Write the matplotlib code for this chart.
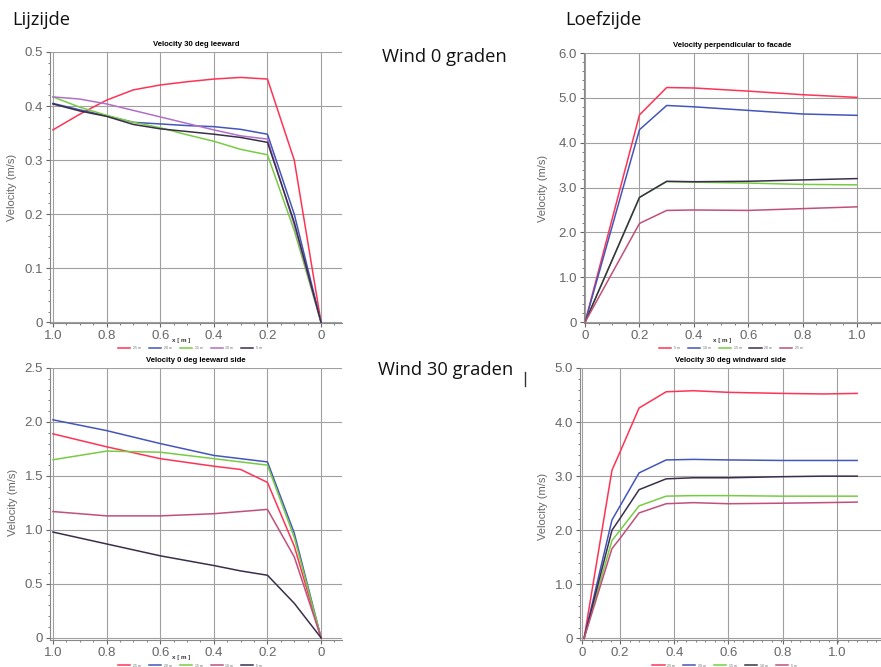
import matplotlib
matplotlib.use("Agg")
import matplotlib.pyplot as plt
from matplotlib.ticker import AutoMinorLocator

'''Data read from the picture'''
# top left: wind 0 deg, lee side
tl_x = [1.0, 0.9, 0.8, 0.7, 0.6, 0.5, 0.4, 0.3, 0.2, 0.1, 0.0]
tl_red = [0.356, 0.385, 0.411, 0.430, 0.439, 0.445, 0.450, 0.453, 0.450, 0.300, 0.0]
tl_blue = [0.405, 0.393, 0.382, 0.370, 0.367, 0.364, 0.362, 0.357, 0.348, 0.200, 0.0]
tl_green = [0.417, 0.398, 0.383, 0.370, 0.360, 0.347, 0.335, 0.320, 0.310, 0.170, 0.0]
tl_violet = [0.417, 0.413, 0.404, 0.392, 0.380, 0.368, 0.356, 0.345, 0.339, 0.180, 0.0]
tl_dark = [0.404, 0.391, 0.381, 0.366, 0.358, 0.353, 0.348, 0.342, 0.333, 0.185, 0.0]
tl_labels = ["25 m", "20 m", "15 m", "10 m", "5 m"]

# top right: wind 0 deg, windward side
tr_x = [0.0, 0.2, 0.3, 0.4, 0.6, 0.8, 1.0]
tr_red = [0.0, 4.62, 5.23, 5.22, 5.15, 5.07, 5.01]
tr_blue = [0.0, 4.29, 4.83, 4.80, 4.72, 4.64, 4.61]
tr_dark = [0.0, 2.78, 3.14, 3.13, 3.14, 3.17, 3.20]
tr_green = [0.0, 2.78, 3.13, 3.12, 3.10, 3.07, 3.06]
tr_mag = [0.0, 2.20, 2.49, 2.50, 2.49, 2.53, 2.57]
tr_labels = ["5 m", "10 m", "15 m", "20 m", "25 m"]

# bottom left: wind 30 deg, lee side
bl_x = [1.0, 0.8, 0.6, 0.4, 0.3, 0.2, 0.1, 0.0]
bl_blue = [2.02, 1.92, 1.80, 1.69, 1.66, 1.63, 0.97, 0.0]
bl_red = [1.89, 1.77, 1.66, 1.59, 1.56, 1.44, 0.85, 0.0]
bl_green = [1.65, 1.73, 1.72, 1.66, 1.63, 1.60, 0.93, 0.0]
bl_mag = [1.17, 1.13, 1.13, 1.15, 1.17, 1.19, 0.75, 0.0]
bl_dark = [0.98, 0.87, 0.76, 0.67, 0.62, 0.58, 0.32, 0.0]
bl_labels = ["25 m", "20 m", "15 m", "10 m", "5 m"]

# bottom right: wind 30 deg, windward side
br_x = [0.067, 0.17, 0.2, 0.27, 0.37, 0.47, 0.6, 0.8, 0.95, 1.075]
br_red = [0.0, 3.11, 3.45, 4.26, 4.56, 4.58, 4.55, 4.53, 4.52, 4.53]
br_blue = [0.0, 2.19, 2.45, 3.06, 3.30, 3.31, 3.30, 3.29, 3.29, 3.29]
br_dark = [0.0, 2.00, 2.22, 2.75, 2.95, 2.97, 2.97, 2.99, 3.00, 3.00]
br_green = [0.0, 1.81, 2.00, 2.45, 2.63, 2.64, 2.64, 2.63, 2.63, 2.63]
br_mag = [0.0, 1.66, 1.85, 2.32, 2.49, 2.51, 2.49, 2.50, 2.51, 2.52]
br_labels = ["25 m", "20 m", "15 m", "10 m", "5 m"]

RED, BLUE, GREEN = "#ff3355", "#4455bb", "#77cc44"
VIOLET, MAG, DARK = "#b070c8", "#c0507a", "#3a2f4a"
GRAY = "#666666"

plt.rcParams['font.family'] = ['Liberation Sans', 'DejaVu Sans']
fig = plt.figure(figsize=(8.81, 6.67), dpi=100)


def panel(rect, title, xlim, ylim, xticks, xticklabels, yticks, yticklabels,
          series, labels, xlabel=True, ylab_y=0.5, ylab_x=-0.11, xlab_x=0.45):
    ax = fig.add_axes(rect)
    for (x, y, c) in series:
        ax.plot(x, y, color=c, lw=1.1)
    ax.set_xlim(*xlim)
    ax.set_ylim(*ylim)
    ax.set_xticks(xticks)
    ax.set_xticklabels(xticklabels)
    ax.set_yticks(yticks)
    ax.set_yticklabels(yticklabels)
    ax.xaxis.set_minor_locator(AutoMinorLocator(4))
    ax.yaxis.set_minor_locator(AutoMinorLocator(5))
    ax.tick_params(which='major', length=3, color=GRAY, labelcolor=GRAY, labelsize=9.5, pad=2)
    ax.tick_params(which='minor', length=1.5, color=GRAY)
    ax.grid(True, which='major', color="#a0a0a0", lw=0.8)
    ax.set_axisbelow(True)
    for s in ['top', 'right']:
        ax.spines[s].set_visible(False)
    for s in ['left', 'bottom']:
        ax.spines[s].set_color("#888888")
    ax.set_title(title, fontsize=5.6, fontweight='bold', pad=4)
    ax.set_ylabel("Velocity (m/s)", fontsize=8, color=GRAY)
    ax.yaxis.set_label_coords(ylab_x, ylab_y)
    if xlabel:
        ax.set_xlabel("x [ m ]", fontsize=4.5, fontweight='bold', color="#333333")
        ax.xaxis.set_label_coords(xlab_x, -0.055)
    ax.legend(labels, loc='upper center', bbox_to_anchor=(xlab_x + 0.03, -0.075), ncol=5,
              fontsize=2.5, frameon=False, handlelength=3.5, columnspacing=2.3, labelcolor=GRAY)
    return ax


'''Top left'''
panel([50 / 881, 1 - 323 / 667, 292 / 881, 271 / 667], "Velocity 30 deg leeward",
      (1.011, -0.078), (-0.001, 0.5),
      [1.0, 0.8, 0.6, 0.4, 0.2, 0.0], ["1.0", "0.8", "0.6", "0.4", "0.2", "0"],
      [0, 0.1, 0.2, 0.3, 0.4, 0.5], ["0", "0.1", "0.2", "0.3", "0.4", "0.5"],
      [(tl_x, tl_red, RED), (tl_x, tl_blue, BLUE), (tl_x, tl_green, GREEN),
       (tl_x, tl_violet, VIOLET), (tl_x, tl_dark, DARK)], tl_labels,
      ylab_x=-0.113, xlab_x=0.45)

'''Top right'''
panel([584 / 881, 1 - 323 / 667, 297 / 881, 270 / 667], "Velocity perpendicular to facade",
      (-0.004, 1.088), (-0.02, 6.0),
      [0.0, 0.2, 0.4, 0.6, 0.8, 1.0], ["0", "0.2", "0.4", "0.6", "0.8", "1.0"],
      [0, 1, 2, 3, 4, 5, 6], ["0", "1.0", "2.0", "3.0", "4.0", "5.0", "6.0"],
      [(tr_x, tr_red, RED), (tr_x, tr_blue, BLUE), (tr_x, tr_green, GREEN),
       (tr_x, tr_dark, DARK), (tr_x, tr_mag, MAG)], tr_labels,
      ylab_x=-0.121, xlab_x=0.465)

'''Bottom left'''
panel([50 / 881, 1 - 640 / 667, 292 / 881, 272 / 667], "Velocity 0 deg leeward side",
      (1.011, -0.078), (-0.02, 2.5),
      [1.0, 0.8, 0.6, 0.4, 0.2, 0.0], ["1.0", "0.8", "0.6", "0.4", "0.2", "0"],
      [0, 0.5, 1.0, 1.5, 2.0, 2.5], ["0", "0.5", "1.0", "1.5", "2.0", "2.5"],
      [(bl_x, bl_red, RED), (bl_x, bl_blue, BLUE), (bl_x, bl_green, GREEN),
       (bl_x, bl_mag, MAG), (bl_x, bl_dark, DARK)], bl_labels,
      ylab_x=-0.11, ylab_y=0.507, xlab_x=0.45)

'''Bottom right'''
panel([580 / 881, 1 - 640 / 667, 301 / 881, 272 / 667], "Velocity 30 deg windward side",
      (0.052, 1.163), (-0.03, 5.0),
      [0.06, 0.2, 0.4, 0.6, 0.8, 1.0], ["0", "0.2", "0.4", "0.6", "0.8", "1.0"],
      [0, 1, 2, 3, 4, 5], ["0", "1.0", "2.0", "3.0", "4.0", "5.0"],
      [(br_x, br_red, RED), (br_x, br_blue, BLUE), (br_x, br_green, GREEN),
       (br_x, br_dark, DARK), (br_x, br_mag, MAG)], br_labels,
      xlabel=False, ylab_x=-0.106, ylab_y=0.49, xlab_x=0.45)

'''Slide captions'''
cap = dict(fontsize=13.2, family=['Open Sans', 'DejaVu Sans'], color="#111111", va='center')
fig.text(12 / 881, 1 - 20 / 667, "Lijzijde", **cap)
fig.text(565 / 881, 1 - 20 / 667, "Loefzijde", **cap)
fig.text(382 / 881, 1 - 57 / 667, "Wind 0 graden", **cap)
fig.text(378 / 881, 1 - 370 / 667, "Wind 30 graden", **cap)
fig.add_artist(plt.Line2D([525 / 881, 525 / 881], [1 - 372 / 667, 1 - 386 / 667], color="#333333", lw=1))

fig.savefig("out.png", dpi=100)
